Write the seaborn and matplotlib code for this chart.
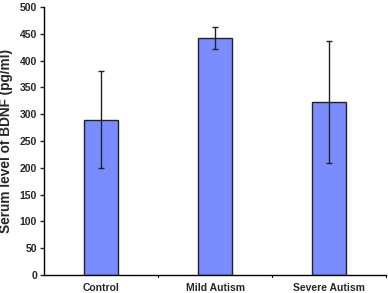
import matplotlib
matplotlib.use("Agg")
import matplotlib.pyplot as plt
import seaborn as sns
import pandas as pd
import numpy as np

categories = ["Control", "Mild Autism", "Severe Autism"]
means = [290, 442, 323]
errors = [90, 20, 114]
yticks = [0, 50, 100, 150, 200, 250, 300, 350, 400, 450, 500]

sns.set_style("ticks")
plt.rcParams['font.family'] = ['Liberation Sans', 'DejaVu Sans']

df = pd.DataFrame({"group": categories, "value": means})

fig = plt.figure(figsize=(3.88, 2.93), dpi=100)
ax = fig.add_axes([44/388, 18/293, 342/388, 268/293])

sns.barplot(data=df, x="group", y="value", ax=ax, color="#7a8cff", saturation=1,
            width=0.29, edgecolor="#222222", linewidth=1.0, errorbar=None)
ax.errorbar(np.arange(len(categories)), means, yerr=errors, fmt="none",
            ecolor="#222222", elinewidth=1.0, capsize=2.5, capthick=1.0)

ax.set_xlim(-0.5, 2.5)
ax.set_ylim(0, 500)
ax.set_yticks(yticks)
ax.set_yticklabels([str(t) for t in yticks], fontsize=7.5, fontweight="bold")
ax.set_xticks(range(len(categories)))
ax.set_xticklabels(categories, fontsize=7.5, fontweight="bold")
ax.tick_params(axis="x", length=0, pad=6)
ax.tick_params(axis="y", length=3, width=1, direction="out", pad=2)
for b in [0.5, 1.5, 2.5]:
    ax.plot([b, b], [0, -4], transform=ax.transData,
            color="black", lw=0.8, clip_on=False)
ax.set_xlabel("")
ax.set_ylabel("Serum level of BDNF (pg/ml)", fontsize=9.8, fontweight="bold", labelpad=5)
sns.despine(ax=ax)
for s in ["left", "bottom"]:
    ax.spines[s].set_linewidth(1.0)
    ax.spines[s].set_color("black")

fig.savefig("out.png", dpi=100)
